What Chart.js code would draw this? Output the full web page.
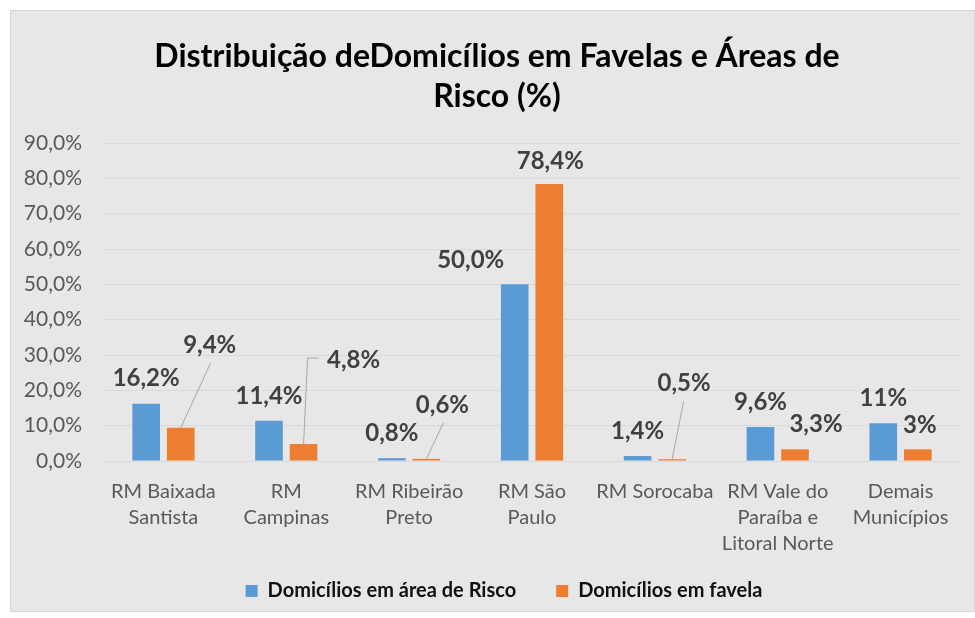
<!DOCTYPE html>
<html>
<head>
<meta charset="utf-8">
<script src="https://cdn.jsdelivr.net/npm/chart.js@4"></script>
<style>
  html, body { margin: 0; padding: 0; background: #fff; }
  #box {
    position: absolute; left: 10px; top: 10px;
    width: 963px; height: 600px;
    background: #e7e7e7; border: 1px solid #d6d6d6;
  }
  canvas { display: block; }
</style>
</head>
<body>
<div id="box"><canvas id="chart" width="963" height="600"></canvas></div>
<script>
// ── Data ──────────────────────────────────────────────
const CATEGORIES = [
  ['RM Baixada', 'Santista'],
  ['RM', 'Campinas'],
  ['RM Ribeirão', 'Preto'],
  ['RM São', 'Paulo'],
  ['RM Sorocaba'],
  ['RM Vale do', 'Paraíba e', 'Litoral Norte'],
  ['Demais', 'Municípios'],
];
const RISCO = [16.2, 11.4, 0.8, 50.0, 1.4, 9.6, 10.7];
const FAVELA = [9.4, 4.8, 0.6, 78.4, 0.5, 3.3, 3.3];
const DECIMALS = [1, 1, 1, 1, 1, 1, 0];
const Y_TICKS = [0, 10, 20, 30, 40, 50, 60, 70, 80, 90];
const SERIES_NAMES = ['Domicílios em área de Risco', 'Domicílios em favela'];

// label placement (dx, dy from bar top centre), as moved by hand in the original
const LABEL_SHIFT = [
  [[0, -25], [0, -24], [0, -25], [-44, -24], [0, -25], [0, -25], [0, -25]],
  [[29, -83], [50, -84], [16, -54], [1, -23], [12, -76], [21, -25], [2, -24]],
];
// leader lines for the orange labels that were dragged away
const LEADERS = {
  0: [[30, -65], [0, 0]],
  1: [[15, -86], [4, -86], [0, 0]],
  2: [[17, -36], [0, 0]],
  4: [[11.5, -58], [0, 0]],
};

const BLUE = '#5b9bd5';
const ORANGE = '#ed7d31';
const FONT = "Lato, 'Open Sans', sans-serif";

function fmtPct(v, d) {
  return v.toFixed(d).replace('.', ',') + '%';
}

// ── Data labels plugin ────────────────────────────────
const dataLabels = {
  id: 'dataLabels',
  afterDatasetsDraw(chart) {
    const ctx = chart.ctx;
    ctx.save();
    chart.data.datasets.forEach((ds, di) => {
      const meta = chart.getDatasetMeta(di);
      meta.data.forEach((bar, i) => {
        const [dx, dy] = LABEL_SHIFT[di][i];
        if (di === 1 && LEADERS[i]) {
          ctx.strokeStyle = '#a6a6a6';
          ctx.lineWidth = 1;
          ctx.beginPath();
          LEADERS[i].forEach(([lx, ly], k) => {
            if (k === 0) ctx.moveTo(bar.x + lx, bar.y + ly);
            else ctx.lineTo(bar.x + lx, bar.y + ly);
          });
          ctx.stroke();
        }
        ctx.fillStyle = '#404040';
        ctx.font = 'bold 24px ' + FONT;
        ctx.textAlign = 'center';
        ctx.textBaseline = 'middle';
        ctx.fillText(fmtPct(ds.data[i], DECIMALS[i]), bar.x + dx, bar.y + dy);
      });
    });
    ctx.restore();
  },
};

// legend sits a little right of centre in the original
const legendShift = {
  id: 'legendShift',
  beforeLayout(chart) {
    const lg = chart.legend;
    if (!lg || lg._shifted) return;
    const draw = lg.draw;
    lg.draw = function (area) {
      this.ctx.save();
      this.ctx.translate(7, 0);
      draw.call(this, area);
      this.ctx.restore();
    };
    lg._shifted = true;
  },
};

// tick labels may spill outside their axis box
const noLabelClip = scale => { scale._computeLabelArea = () => undefined; };

const ctx = document.getElementById('chart');
new Chart(ctx, {
  type: 'bar',
  data: {
    labels: CATEGORIES,
    datasets: [
      { label: SERIES_NAMES[0], data: RISCO, backgroundColor: BLUE },
      { label: SERIES_NAMES[1], data: FAVELA, backgroundColor: ORANGE },
    ],
  },
  options: {
    responsive: false,
    animation: false,
    events: [],
    categoryPercentage: 0.5625,
    barPercentage: 0.8,
    layout: { padding: { left: 21, right: 12, top: 0, bottom: 0 } },
    plugins: {
      title: {
        display: true,
        text: ['Distribuição deDomicílios em Favelas e Áreas de', 'Risco (%)'],
        color: '#000',
        font: { family: FONT, size: 32, weight: 'bold', lineHeight: 1.25 },
        padding: { top: 26, bottom: 26 },
      },
      legend: {
        position: 'bottom',
        labels: {
          color: '#111',
          boxWidth: 12,
          boxHeight: 12,
          padding: 40,
          font: { family: FONT, size: 20, weight: 'bold' },
        },
      },
      tooltip: { enabled: false },
    },
    scales: {
      x: {
        grid: { display: false, drawTicks: false },
        border: { display: false },
        ticks: {
          color: '#595959',
          font: { family: FONT, size: 20, lineHeight: 1.3 },
          padding: 18,
          maxRotation: 0,
          autoSkip: false,
        },
        afterFit(scale) {
          scale.height = 80;
          noLabelClip(scale);
        },
      },
      y: {
        min: 0,
        max: 90,
        afterBuildTicks(scale) { scale.ticks = Y_TICKS.map(v => ({ value: v })); },
        grid: { color: '#d9d9d9', lineWidth: 1, drawTicks: false },
        border: { display: false },
        ticks: {
          color: '#595959',
          font: { family: FONT, size: 21 },
          padding: 20,
          callback: v => fmtPct(v, 1),
        },
        afterFit(scale) {
          scale.width = 70;
          noLabelClip(scale);
        },
      },
    },
  },
  plugins: [dataLabels, legendShift],
});
</script>
</body>
</html>
